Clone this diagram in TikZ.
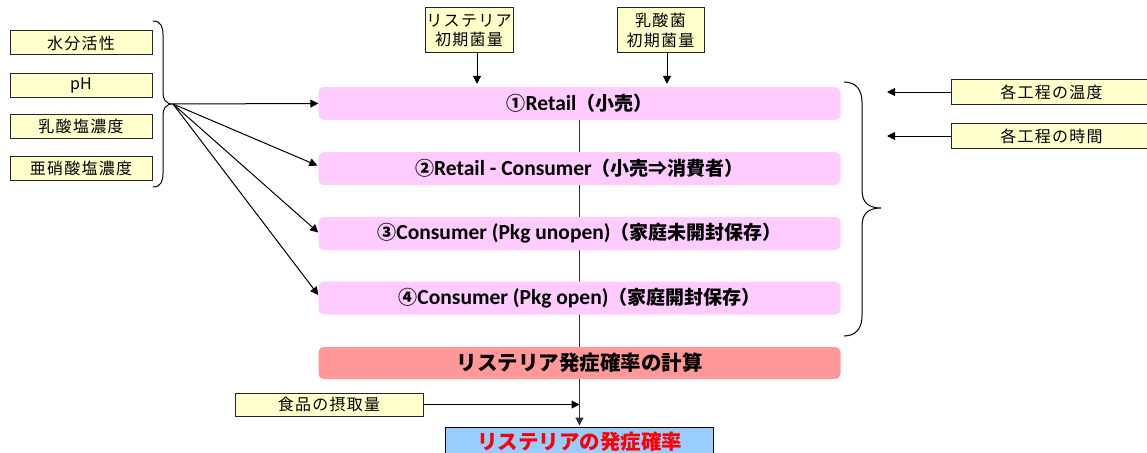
\documentclass[tikz,border=0pt]{standalone}
\usepackage{fontspec}
\usetikzlibrary{arrows.meta,calc,backgrounds}
\setmainfont{Noto Sans CJK JP}
\newfontfamily\jp{Noto Sans CJK JP}
\newfontfamily\jpsp[LetterSpace=8]{Noto Sans CJK JP}
\newfontfamily\lat{Carlito}
\newcommand{\latb}[1]{{\lat\bfseries\fontsize{21.5}{24}\selectfont #1}}
\definecolor{ybox}{RGB}{255,255,204}
\definecolor{pbox}{RGB}{255,204,255}
\definecolor{rbox}{RGB}{255,153,153}
\definecolor{bbox}{RGB}{153,204,255}
\tikzset{
  ybx/.style={draw=black!85,line width=1pt,fill=ybox,inner sep=0pt,font=\jpsp\fontsize{16}{19.5}\selectfont,text=black},
  pbx/.style={fill=pbox,rounded corners=5pt,inner sep=0pt,minimum width=522pt,minimum height=33pt,font=\jp\bfseries\fontsize{19}{22}\selectfont},
  arr/.style={-{Triangle[length=8pt,width=8pt]},line width=1pt,black},
  brc/.style={line width=1pt,black},
  flow/.style={line width=1.2pt,black!80},
}
\begin{document}
\begin{tikzpicture}[x=1pt,y=-1pt]
\useasboundingbox (0,0) rectangle (1147,452);
% left factor boxes
\node[ybx,minimum width=142pt,minimum height=24pt] (aw) at (81,43) {水分活性};
\node[ybx,minimum width=142pt,minimum height=24pt] (ph) at (81,85) {\jp pH};
\node[ybx,minimum width=142pt,minimum height=24pt] (lac) at (81,126) {乳酸塩濃度};
\node[ybx,minimum width=142pt,minimum height=24pt] (nit) at (81,168) {亜硝酸塩濃度};
% top boxes
\node[ybx,minimum width=88pt,minimum height=45pt,align=center] (lis0) at (469,30.5) {リステリア\\初期菌量};
\node[ybx,minimum width=87pt,minimum height=45pt,align=center] (lab0) at (660.5,30.5) {乳酸菌\\初期菌量};
% right boxes
\node[ybx,minimum width=200pt,minimum height=25pt,anchor=west] (temp) at (951,92) {各工程の温度};
\node[ybx,minimum width=200pt,minimum height=25pt,anchor=west] (time) at (951,136) {各工程の時間};
% pink stage boxes
\node[pbx] (p1) at (579.5,103.5) {①\latb{Retail}（小売）};
\node[pbx] (p2) at (579.5,168.5) {②\latb{Retail - Consumer}（小売⇒消費者）};
\node[pbx] (p3) at (579.5,233.5) {③\latb{Consumer (Pkg unopen)}（家庭未開封保存）};
\node[pbx] (p4) at (579.5,298) {④\latb{Consumer (Pkg open)}（家庭開封保存）};
% calculation box
\node[fill=rbox,rounded corners=5pt,inner sep=0pt,minimum width=522pt,minimum height=32pt,font=\bfseries\fontsize{20.5}{24}\selectfont] (calc) at (579.5,363) {リステリア発症確率の計算};
% intake
\node[ybx,minimum width=188pt,minimum height=23pt] (eat) at (329,404.5) {食品の摂取量};
% result
\node[draw=black,line width=1pt,fill=bbox,inner sep=0pt,minimum width=268pt,minimum height=30pt,font=\bfseries\fontsize{20.5}{24}\selectfont,text=red] (res) at (579.5,442) {リステリアの発症確率};
% vertical flow line behind the stage boxes
\begin{scope}[on background layer]
\draw[flow] (p1.south) -- (calc.north);
\end{scope}
% left brace
\coordinate (lbt) at (153,21);
\coordinate (lbm) at (173,104);
\coordinate (lbb) at (153,187);
\draw[brc] (lbt) .. controls (161,21) and (163,27) .. (163,35) -- (163,92) .. controls (163,100) and (166,104) .. (lbm)
  .. controls (166,104) and (163,108) .. (163,116) -- (163,173) .. controls (163,181) and (161,187) .. (lbb);
% right brace
\coordinate (rbt) at (844,82);
\coordinate (rbm) at (881,208);
\coordinate (rbb) at (844,336);
\draw[brc] (rbt) .. controls (856,82) and (862,90) .. (862,102) -- (862,190) .. controls (862,202) and (868,208) .. (rbm)
  .. controls (868,208) and (862,214) .. (862,226) -- (862,316) .. controls (862,328) and (856,336) .. (rbb);
% factor arrows
\draw[arr] (lbm) -- (p1.west);
\draw[arr] (lbm) -- ($(p2.west)+(-1,-3)$);
\draw[arr] (lbm) -- ($(p3.west)+(0,-1)$);
\draw[arr] (lbm) -- ($(p4.west)+(0,-3)$);
% top arrows
\draw[arr] ($(lis0.south)+(8,0)$) -- ($(lis0.south |- p1.north)+(8,-3)$);
\draw[arr] ($(lab0.south)+(6.5,0)$) -- ($(lab0.south |- p1.north)+(6.5,-3)$);
% right arrows
\coordinate (ta) at (887,92);
\coordinate (tb) at (887,136);
\draw[arr] (temp.west) -- (ta);
\draw[arr] (time.west) -- (tb);
% intake arrow and result arrow
\draw[arr] (eat.east) -- (eat.east -| res.north);
\draw[flow,-{Triangle[length=8pt,width=8pt]}] (calc.south) -- ($(res.north)+(0,-1)$);
\end{tikzpicture}
\end{document}
